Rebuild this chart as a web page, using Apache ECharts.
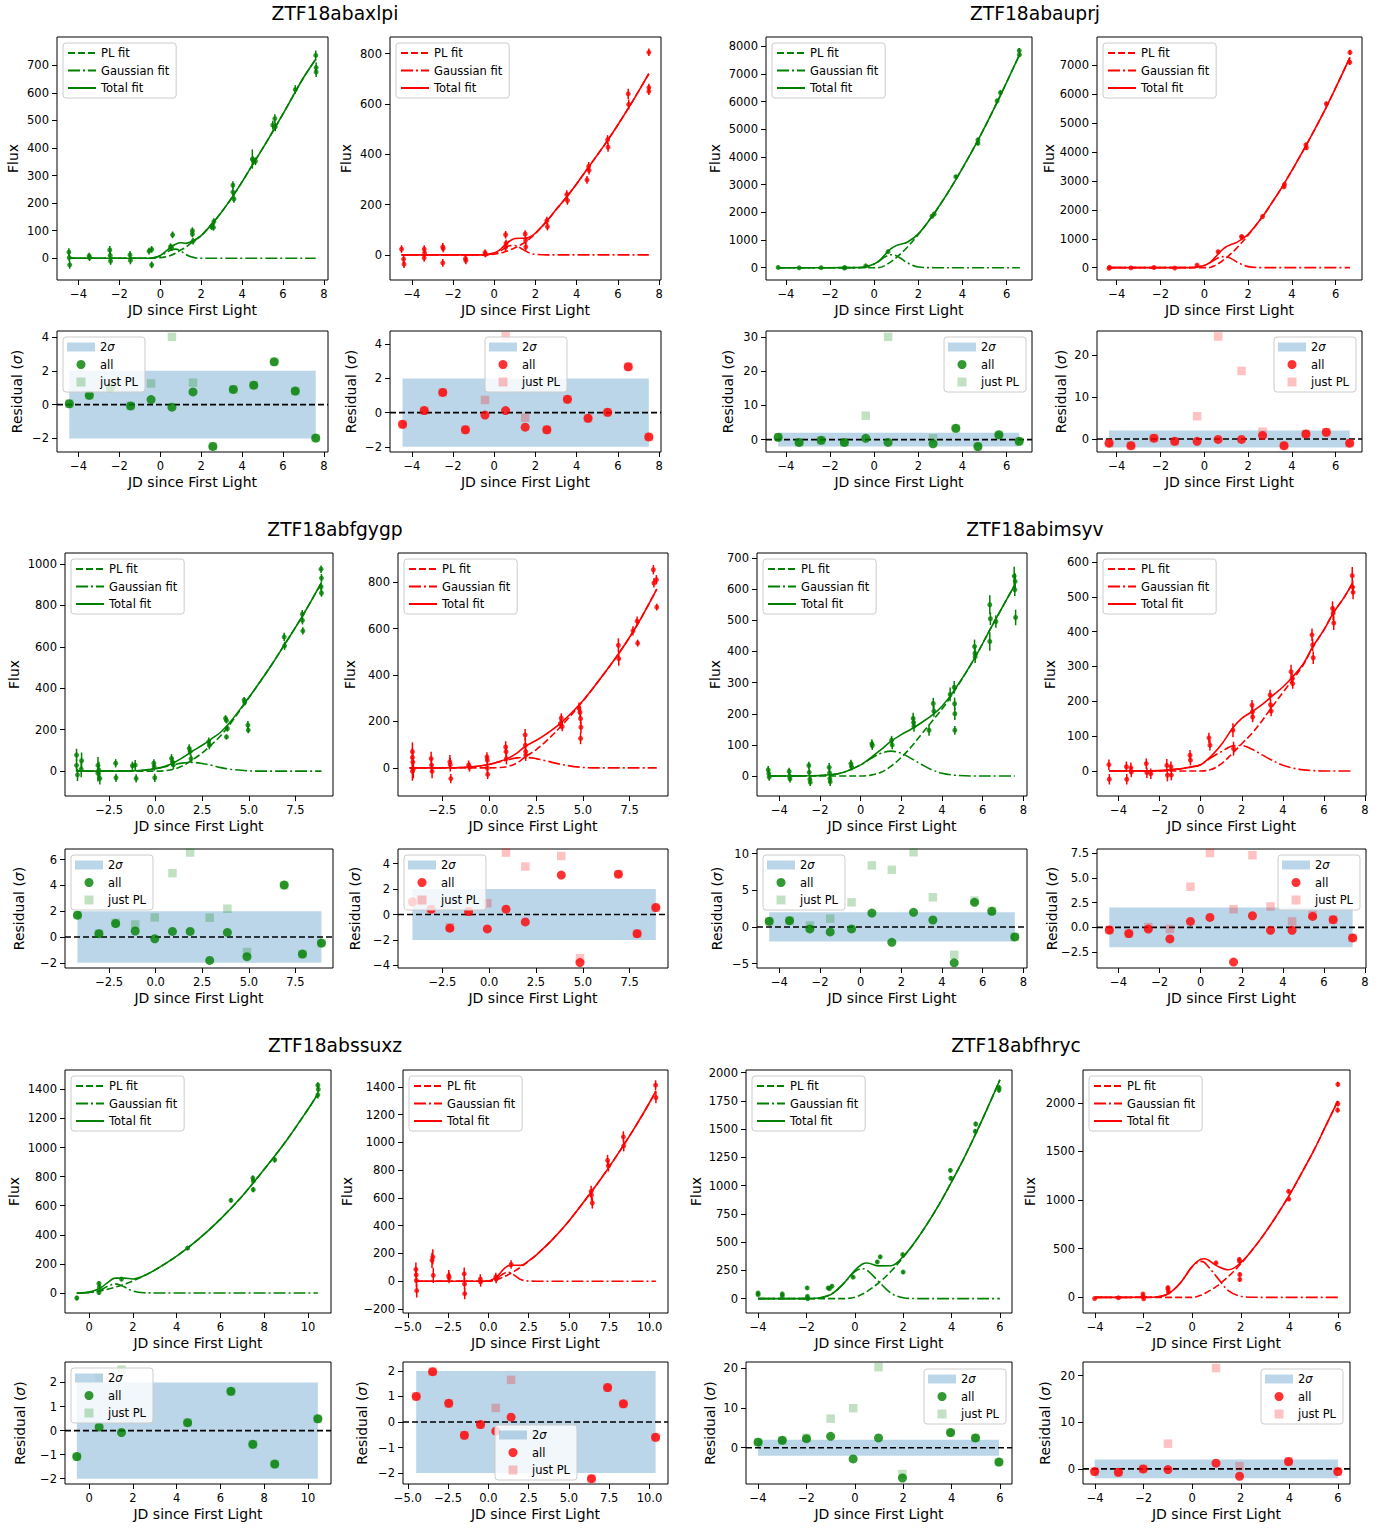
<!DOCTYPE html>
<html><head><meta charset="utf-8">
<script src="https://cdn.jsdelivr.net/npm/echarts@6/dist/echarts.min.js"></script>
<style>html,body{margin:0;padding:0;background:#fff}#c{width:1385px;height:1530px}</style>
</head><body><div id="c"></div>
<script>
const FONT = 'DejaVu Sans';
const TITLES = ['ZTF18abaxlpi','ZTF18abauprj','ZTF18abfgygp','ZTF18abimsyv','ZTF18abssuxz','ZTF18abfhryc'];
const X_LABEL = 'JD since First Light';
const FLUX_LABEL = 'Flux';
const RES_LABEL = 'Residual ({i|σ})';
const FIT_NAMES = ['PL fit','Gaussian fit','Total fit'];
const RES_NAMES = ['2σ','all','just PL'];
const SIGMA_LEVEL = 2;

// ---- tick labels ----
const XT_A = [-4,-2,0,2,4,6,8];
const XT_B = [-4,-2,0,2,4,6];
const XT_C = [-2.5,0,2.5,5,7.5];
const XT_EG = [0,2,4,6,8,10];
const XT_ER = [-5,-2.5,0,2.5,5,7.5,10];
const A_G_FT = [0,100,200,300,400,500,600,700];
const A_R_FT = [0,200,400,600,800];
const B_G_FT = [0,1000,2000,3000,4000,5000,6000,7000,8000];
const B_R_FT = [0,1000,2000,3000,4000,5000,6000,7000];
const C_G_FT = [0,200,400,600,800,1000];
const C_R_FT = [0,200,400,600,800];
const D_G_FT = [0,100,200,300,400,500,600,700];
const D_R_FT = [0,100,200,300,400,500,600];
const E_G_FT = [0,200,400,600,800,1000,1200,1400];
const E_R_FT = [-200,0,200,400,600,800,1000,1200,1400];
const F_G_FT = [0,250,500,750,1000,1250,1500,1750,2000];
const F_R_FT = [0,500,1000,1500,2000];
const A_G_RT = [-2,0,2,4];
const A_R_RT = [-2,0,2,4];
const B_G_RT = [0,10,20,30];
const B_R_RT = [0,10,20];
const C_G_RT = [-2,0,2,4,6];
const C_R_RT = [-4,-2,0,2,4];
const D_G_RT = [-5,0,5,10];
const D_R_RT = [-2.5,0,2.5,5,7.5];
const E_G_RT = [-2,-1,0,1,2];
const E_R_RT = [-2,-1,0,1,2];
const F_G_RT = [0,10,20];
const F_R_RT = [0,10,20];

// ---- ZTF18abaxlpi ----
const A_G_OBS = [[-4.47,22,14],[-4.45,2,14],[-4.43,-24,14],[-3.48,8,12],[-3.46,2,12],[-2.47,30,14],[-2.45,10,14],[-2.43,-10,14],[-1.48,12,14],[-1.46,-8,14],[-0.55,26,12],[-0.42,32,12],[-0.42,-24,12],[0.5,42,12],[0.55,38,12],[0.6,85,12],[1.57,100,12],[1.57,88,12],[1.6,62,12],[2.5,115,12],[2.6,112,12],[2.62,133,12],[3.55,265,14],[3.55,240,14],[3.6,215,14],[4.5,360,35],[4.55,355,14],[4.65,352,14],[5.5,483,16],[5.6,507,16],[5.62,477,16],[6.6,612,16],[7.6,736,18],[7.62,692,18],[7.62,676,18]];
const A_G_CX = [-4.45,-0.5,0,0.25,0.5,0.75,1,1.25,1.5,1.75,2,2.5,3,3.5,4,4.5,5,5.5,6,6.5,7,7.6];
const A_G_PL = [0,0,2,5,10,18,30,40,55,68,82,122,168,220,277,338,398,460,524,590,655,722];
const A_G_GA = [0,0,8,19,29,33,26,14,5,1,0,0,0,0,0,0,0,0,0,0,0,0];
const A_G_TOT = [0,0,10,24,39,51,56,54,60,69,82,122,168,220,277,338,398,460,524,590,655,722];
const A_G_RX = [-4.45,-3.47,-2.45,-1.45,-0.45,0.57,1.6,2.57,3.57,4.57,5.57,6.6,7.6];
const A_G_RALL = [0.05,0.55,1.0,-0.08,0.3,-0.15,0.75,-2.47,0.9,1.15,2.53,0.8,-1.98];
const A_G_RPL = [0.05,0.55,1.0,-0.08,1.25,4.0,1.3,-2.47,0.9,1.15,2.53,0.8,-1.98];

const A_R_OBS = [[-4.5,23,15],[-4.4,-17,15],[-4.38,-37,15],[-3.4,23,15],[-3.4,-12,15],[-3.38,8,15],[-2.5,32,15],[-2.48,25,15],[-2.5,-32,15],[-1.4,-15,15],[-1.38,-22,15],[-0.45,9,12],[-0.43,2,12],[0.55,80,15],[0.57,45,15],[0.55,30,15],[1.5,83,15],[1.52,58,15],[1.53,32,15],[2.55,136,15],[2.58,112,15],[3.52,240,17],[3.55,216,17],[4.5,298,15],[4.58,352,17],[4.6,336,17],[5.5,458,18],[5.52,428,18],[6.5,640,20],[6.52,598,20],[7.5,805,15],[7.5,665,15],[7.5,650,15]];
const A_R_CX = [-4.5,-0.5,0,0.25,0.5,0.75,1,1.25,1.5,1.75,2,2.55,3,3.5,4,4.5,5,5.5,6,6.5,7,7.5];
const A_R_PL = [0,0,3,6,12,19,28,38,50,66,85,134,180,229,283,340,397,455,517,582,650,720];
const A_R_GA = [0,0,5,13,26,36,37,28,16,6,2,0,0,0,0,0,0,0,0,0,0,0];
const A_R_TOT = [0,0,8,19,38,55,65,66,66,72,87,134,180,229,283,340,397,455,517,582,650,720];
const A_R_RX = [-4.45,-3.4,-2.5,-1.4,-0.45,0.55,1.5,2.55,3.55,4.55,5.5,6.5,7.5];
const A_R_RALL = [-0.68,0.12,1.18,-1.0,-0.14,0.12,-0.85,-1.0,0.78,-0.33,0.02,2.68,-1.42];
const A_R_RPL = [-0.68,0.12,1.18,-1.0,0.74,4.47,-0.29,-1.0,0.78,-0.33,0.02,2.68,-1.42];

// ---- ZTF18abauprj ----
const B_G_OBS = [[-4.35,10,40],[-3.4,-5,40],[-2.4,0,40],[-1.35,-10,40],[-1.33,5,40],[-0.38,65,40],[0.63,580,50],[2.62,1860,60],[2.72,1940,60],[3.7,3290,60],[4.7,4500,70],[4.7,4620,70],[5.57,6030,80],[5.72,6330,80],[6.57,7850,90],[6.58,7700,90]];
const B_G_CX = [-4.35,-1,-0.5,0,0.25,0.5,0.75,1,1.25,1.5,2,2.6,3,3.7,4.7,5.6,6.6];
const B_G_PL = [0,0,0,0,6,86,210,364,542,742,1198,1830,2293,3187,4606,6030,7728];
const B_G_GA = [0,1,16,131,257,393,468,434,313,176,26,1,0,0,0,0,0];
const B_G_TOT = [0,1,16,131,263,479,678,798,855,918,1224,1831,2293,3187,4606,6030,7728];
const B_G_RX = [-4.35,-3.4,-2.4,-1.35,-0.38,0.63,2.67,3.7,4.7,5.65,6.57];
const B_G_RALL = [0.7,-0.8,-0.2,-0.8,0.4,-0.8,-1.2,3.3,-2.0,1.4,-0.5];
const B_G_RPL = [0.7,-0.8,-0.2,-0.8,7.0,30.0,0.4,3.3,-2.0,1.4,-0.5];

const B_R_OBS = [[-4.35,-20,40],[-4.33,10,40],[-3.35,-10,40],[-2.3,5,40],[-1.35,-15,40],[-0.33,90,40],[0.63,550,50],[1.7,1080,50],[1.72,1050,50],[2.66,1770,60],[3.64,2800,60],[3.66,2880,60],[4.64,4250,70],[4.66,4150,70],[5.57,5670,80],[6.65,7450,90],[6.64,7110,90]];
const B_R_CX = [-4.35,-1,-0.5,0,0.25,0.5,0.75,1,1.25,1.5,2,2.66,3,3.64,4.64,5.57,6.65];
const B_R_PL = [0,0,0,0,6,80,196,341,508,695,1121,1770,2147,2900,4224,5558,7280];
const B_R_GA = [0,0,8,77,167,283,373,382,305,190,35,1,0,0,0,0,0];
const B_R_TOT = [0,0,8,77,173,363,569,723,813,885,1156,1771,2147,2900,4224,5558,7280];
const B_R_RX = [-4.35,-3.35,-2.3,-1.35,-0.33,0.63,1.7,2.66,3.64,4.64,5.57,6.64];
const B_R_RALL = [-1.0,-1.6,0.2,-0.55,-0.55,-0.1,-0.1,0.8,-1.6,1.2,1.6,-1.0];
const B_R_RPL = [-1.0,-1.6,0.2,-0.55,5.4,24.4,16.2,1.75,-1.6,1.2,1.6,-1.0];

// ---- ZTF18abfgygp ----
const C_G_OBS = [[-4.25,78,30],[-4.25,28,30],[-4.2,-18,30],[-3.98,50,40],[-4.0,10,40],[-3.1,28,40],[-3.05,5,40],[-3.1,-10,40],[-3.0,-35,30],[-2.15,38,20],[-2.13,-32,20],[-1.25,26,20],[-1.1,29,25],[-1.05,-35,20],[-0.1,38,20],[-0.08,22,20],[-0.05,-32,20],[0.85,62,20],[0.9,45,20],[0.95,30,20],[1.8,110,20],[1.85,95,20],[1.9,60,20],[2.85,142,20],[2.88,125,20],[3.75,255,15],[3.8,245,15],[3.85,206,15],[3.8,165,12],[4.75,343,15],[4.78,332,15],[4.95,222,20],[4.97,198,15],[6.9,648,20],[6.92,605,20],[7.87,758,20],[7.88,728,20],[7.9,677,18],[8.88,975,18],[8.9,932,20],[8.88,890,20],[8.9,860,18]];
const C_G_CX = [-4.25,-2,-1,-0.5,0,0.5,1,1.5,1.9,2.5,3,3.5,4,4.75,5.5,6.2,6.9,7.9,8.9];
const C_G_PL = [0,0,0,0,0,2,10,28,50,88,128,172,228,322,418,510,608,752,910];
const C_G_GA = [0,0,2,6,12,21,32,40,42,37,28,17,9,3,0,0,0,0,0];
const C_G_TOT = [0,0,2,6,12,23,42,68,92,125,156,189,237,325,418,510,608,752,910];
const C_G_RX = [-4.2,-3.05,-2.15,-1.1,-0.05,0.9,1.85,2.9,3.85,4.9,6.9,7.88,8.9];
const C_G_RALL = [1.7,0.26,1.05,0.47,-0.13,0.44,0.44,-1.81,0.36,-1.52,4.03,-1.32,-0.47];
const C_G_RPL = [1.7,0.26,1.1,0.98,1.52,4.96,6.56,1.5,2.2,-1.16,4.03,-1.32,-0.47];

const C_R_OBS = [[-4.1,70,40],[-4.1,45,40],[-4.08,25,40],[-4.05,-5,40],[-4.1,-15,40],[-3.1,40,30],[-3.08,12,30],[-3.05,-15,30],[-2.1,26,30],[-2.08,14,30],[-2.05,-46,20],[-1.1,12,20],[-1.05,4,20],[-0.12,47,20],[-0.1,33,20],[-0.1,0,20],[-0.08,-28,20],[0.88,90,25],[0.9,70,25],[0.92,40,25],[1.92,142,25],[1.93,98,30],[1.95,70,30],[1.95,55,25],[3.8,190,20],[3.85,215,20],[3.9,178,20],[4.8,256,25],[4.85,240,25],[4.88,212,25],[4.9,175,25],[4.88,127,25],[6.9,528,30],[6.92,470,30],[7.68,590,20],[7.9,632,20],[7.93,537,15],[8.77,853,20],[8.8,796,20],[8.93,810,20],[8.95,692,15]];
const C_R_CX = [-4.25,-2,-1,-0.5,0,0.5,1,1.5,1.9,2.5,3,3.85,4.85,5.8,6.9,7.9,8.95];
const C_R_PL = [0,0,0,0,0,1,6,22,46,78,112,180,272,370,490,615,770];
const C_R_GA = [0,0.5,4,8,15,25,35,43,45,40,31,15,3,0,0,0,0];
const C_R_TOT = [0,0.5,4,8,15,26,41,65,91,118,143,195,275,370,490,615,770];
const C_R_RX = [-4.1,-3.1,-2.1,-1.1,-0.1,0.9,1.93,3.85,4.85,6.9,7.9,8.9];
const C_R_RALL = [1.0,0.42,-1.07,0.24,-1.13,0.42,-0.58,3.1,-3.77,3.17,-1.5,0.55];
const C_R_RPL = [1.0,0.42,-1.0,0.24,0.89,4.87,3.77,4.6,-3.43,3.17,-1.5,0.55];

// ---- ZTF18abimsyv ----
const D_G_OBS = [[-4.55,20,12],[-4.52,8,12],[-4.5,-3,12],[-3.52,15,12],[-3.5,0,12],[-3.48,-9,12],[-2.55,34,12],[-2.53,12,12],[-2.5,-10,12],[-2.48,-20,12],[-1.55,28,14],[-1.53,10,14],[-1.52,-8,14],[-1.5,-18,14],[-0.48,40,12],[-0.45,30,12],[0.55,104,14],[0.57,98,14],[1.52,115,14],[1.55,100,14],[2.58,185,18],[2.6,172,18],[2.62,160,18],[3.36,147,18],[3.57,233,18],[3.6,208,18],[4.4,262,22],[4.6,285,20],[4.62,232,20],[4.63,200,20],[4.63,147,14],[5.6,416,22],[5.62,394,22],[5.63,383,20],[6.35,550,30],[6.38,505,20],[6.35,432,30],[6.65,496,20],[7.55,642,30],[7.6,625,25],[7.58,598,20],[7.62,509,25]];
const D_G_CX = [-4.5,-2,-1,0,0.5,1,1.5,2,2.5,3,3.5,4,4.6,5.6,6.4,7.58];
const D_G_PL = [0,0,0,0,3,12,32,60,95,135,175,215,272,378,475,614];
const D_G_GA = [0,2,9,36,56,73,80,73,56,37,20,9,3,0,0,0];
const D_G_TOT = [0,2,9,36,59,85,112,133,151,172,195,224,275,378,475,614];
const D_G_RX = [-4.5,-3.5,-2.5,-1.5,-0.45,0.55,1.53,2.6,3.55,4.6,5.6,6.45,7.58];
const D_G_RALL = [0.77,0.86,-0.27,-0.68,-0.27,1.9,-2.1,2.0,0.95,-4.9,3.36,2.14,-1.36];
const D_G_RPL = [0.77,0.86,0.2,1.14,3.36,8.4,7.8,10.2,4.05,-3.8,3.6,2.2,-1.36];

const D_R_OBS = [[-4.47,18,15],[-4.45,-24,15],[-3.62,12,15],[-3.6,-24,15],[-3.4,9,15],[-3.38,-3,15],[-2.65,21,15],[-2.62,-5,15],[-2.43,-8,15],[-1.65,16,18],[-1.62,-12,18],[-1.45,12,15],[-1.43,-12,15],[-0.52,45,15],[-0.5,31,15],[0.4,95,15],[0.45,74,15],[1.57,117,20],[1.6,64,20],[2.5,189,15],[2.52,170,15],[2.53,155,15],[3.38,218,15],[3.4,190,15],[3.43,172,15],[4.4,285,20],[4.45,265,15],[4.48,251,15],[5.42,391,18],[5.45,362,18],[5.48,325,18],[6.42,467,20],[6.45,453,20],[6.48,425,20],[7.38,561,25],[7.4,528,20],[7.42,513,20]];
const D_R_CX = [-4.45,-2,-1,-0.5,0,0.5,1,1.57,2,2.5,3,3.4,4,4.43,5,5.45,6,6.45,7,7.4];
const D_R_PL = [0,0,0,0,0,4,20,52,78,108,145,178,225,258,305,355,405,453,500,540];
const D_R_GA = [0,1,6,11,18,38,55,72,73,62,46,33,16,9,3,1,0,0,0,0];
const D_R_TOT = [0,1,6,11,18,42,75,124,151,170,191,211,241,267,308,356,405,453,500,540];
const D_R_RX = [-4.45,-3.5,-2.55,-1.5,-0.5,0.45,1.6,2.52,3.4,4.45,5.45,6.45,7.4];
const D_R_RALL = [-0.27,-0.63,-0.17,-1.17,0.6,1.0,-3.5,1.17,-0.3,-0.3,1.1,0.77,-1.07];
const D_R_RPL = [-0.27,-0.63,0.03,-0.17,4.1,7.5,1.83,7.27,2.1,0.6,1.27,0.77,-1.07];

// ---- ZTF18abssuxz ----
const E_G_OBS = [[-0.56,-35,15],[0.45,65,15],[0.47,40,15],[0.45,3,15],[1.48,95,12],[4.5,308,12],[6.48,637,15],[7.48,790,18],[7.5,770,18],[7.5,710,18],[8.48,915,18],[10.45,1428,20],[10.47,1400,20],[10.45,1362,25]];
const E_G_CX = [-0.56,0,0.5,0.8,1.2,1.6,2,2.5,3,4,5,6,7,8,9,10,10.45];
const E_G_PL = [0,4,14,24,40,60,83,117,157,253,370,508,667,850,1045,1263,1368];
const E_G_GA = [0,2,18,42,62,42,13,1,0,0,0,0,0,0,0,0,0];
const E_G_TOT = [0,6,32,66,102,102,96,118,157,253,370,508,667,850,1045,1263,1368];
const E_G_RX = [-0.56,0.46,1.48,4.5,6.48,7.48,8.48,10.45];
const E_G_RALL = [-1.08,0.15,-0.08,0.33,1.63,-0.57,-1.39,0.49];
const E_G_RPL = [-1.08,2.2,2.53,0.33,1.63,-0.57,-1.39,0.49];

const E_R_OBS = [[-4.5,85,50],[-4.48,45,50],[-4.47,5,50],[-4.45,-68,50],[-3.5,150,55],[-3.45,175,55],[-3.42,42,55],[-2.46,40,40],[-2.44,25,40],[-1.5,53,45],[-1.48,-20,45],[-1.47,-90,40],[-0.5,15,35],[-0.48,-5,35],[0.46,30,30],[0.48,15,30],[1.41,120,30],[6.38,647,40],[6.4,620,40],[6.45,563,40],[7.4,870,40],[7.45,830,40],[8.38,1040,40],[8.4,975,40],[10.38,1412,35],[10.4,1322,40]];
const E_R_CX = [-4.5,-0.5,0,0.5,0.8,1.2,1.6,2,2.5,3,4,5,6,7,8,9,10,10.4];
const E_R_PL = [0,0,0,11,24,45,71,101,145,192,303,434,583,740,910,1090,1285,1370];
const E_R_GA = [0,0,2,18,44,65,44,13,1,0,0,0,0,0,0,0,0,0];
const E_R_TOT = [0,0,2,29,68,110,115,114,146,192,303,434,583,740,910,1090,1285,1370];
const E_R_RX = [-4.48,-3.46,-2.46,-1.49,-0.49,0.46,1.41,6.4,7.4,8.38,10.38];
const E_R_RALL = [1.0,1.97,0.73,-0.52,-0.1,-0.36,0.19,-2.22,1.35,0.71,-0.6];
const E_R_RPL = [1.0,1.97,0.73,-0.52,-0.1,0.55,1.65,-2.22,1.35,0.71,-0.6];

// ---- ZTF18abfhryc ----
const F_G_OBS = [[-4,50,12],[-4.0,35,12],[-3,42,12],[-3,25,12],[-1.97,95,12],[-1.96,20,12],[-1.95,0,12],[-1.1,95,12],[-1.05,88,12],[-0.95,110,12],[-0.07,190,14],[0.93,325,16],[1.05,370,16],[2.0,235,14],[1.98,390,16],[3.95,1135,16],[3.97,1065,18],[5.0,1545,20],[4.98,1480,20],[5.97,1865,22],[5.96,1845,22]];
const F_G_CX = [-4,-2,-1.5,-1,-0.5,0,0.3,0.5,1,1.5,2,2.5,3,3.5,4,4.5,5,5.5,6];
const F_G_PL = [0,0,0,0,0,12,39,63,141,243,365,505,664,839,1034,1237,1459,1693,1935];
const F_G_GA = [0,0.5,6,36,125,238,265,253,149,48,8,1,0,0,0,0,0,0,0];
const F_G_TOT = [0,0.5,6,36,125,250,304,316,290,291,373,506,664,839,1034,1237,1459,1693,1935];
const F_G_RX = [-4,-3,-2,-1,-0.07,0.98,1.97,3.96,4.99,5.96];
const F_G_RALL = [1.4,1.86,2.28,2.87,-2.8,2.45,-7.6,3.8,2.45,-3.6];
const F_G_RPL = [1.4,1.86,2.5,7.3,9.9,20.2,-6.6,3.8,2.45,-3.6];

const F_R_OBS = [[-4.02,-12,12],[-3.04,-5,12],[-2.03,35,12],[-2.02,10,12],[-2.0,-15,12],[-1.0,100,15],[-1.0,85,15],[-0.98,55,15],[0.98,355,15],[1.94,390,18],[1.95,370,18],[1.96,235,20],[1.96,183,20],[3.97,1090,20],[3.98,1010,20],[6.0,2190,25],[6.0,1990,25],[5.99,1925,25]];
const F_R_CX = [-4,-2,-1.5,-1,-0.5,0,0.35,0.5,1,1.5,2,2.5,3,3.5,4,4.5,5,5.5,6];
const F_R_PL = [0,0,0,0,0,0,21,37,113,217,345,495,663,849,1050,1274,1505,1762,2020];
const F_R_GA = [0,0.3,4,35,145,316,370,359,213,66,11,1,0,0,0,0,0,0,0];
const F_R_TOT = [0,0.3,4,35,145,316,391,396,326,283,356,496,663,849,1050,1274,1505,1762,2020];
const F_R_RX = [-4.02,-3.04,-2.02,-1.0,0.98,1.95,3.97,6.0];
const F_R_RALL = [-0.58,-0.72,0,-0.14,1.22,-1.58,1.58,-0.58];
const F_R_RPL = [-0.58,-0.72,0,5.4,21.6,0.58,1.58,-0.58];

// ---- layout (positions / styles only) ----
const ROWS = [
  {ft:37, fh:243, rt:331, rh:121},
  {ft:553, fh:243, rt:849, rh:119},
  {ft:1070, fh:243, rt:1362, rh:122}
];
const TITLE_POS = [[335,13],[1035,13],[335,529],[1035,529],[335,1045],[1016,1045]];
const GREEN = 'green', RED = 'red';
const COLS = [
  {row:0, L:57, W:271, c:GREEN, obs:A_G_OBS, cx:A_G_CX, pl:A_G_PL, ga:A_G_GA, tot:A_G_TOT, rx:A_G_RX, ra:A_G_RALL, rp:A_G_RPL, xt:XT_A, ft:A_G_FT, rt:A_G_RT, xr:[-5.05,8.2], fy:[-79,803], ry:[-2.8,4.35], fg:37, rg:33, leg:{left:63, top:337}},
  {row:0, L:390, W:271, c:RED, obs:A_R_OBS, cx:A_R_CX, pl:A_R_PL, ga:A_R_GA, tot:A_R_TOT, rx:A_R_RX, ra:A_R_RALL, rp:A_R_RPL, xt:XT_A, ft:A_R_FT, rt:A_R_RT, xr:[-5.06,8.09], fy:[-100,866], ry:[-2.3,4.77], fg:37, rg:32, leg:{left:485, top:337}},
  {row:0, L:766, W:266, c:GREEN, obs:B_G_OBS, cx:B_G_CX, pl:B_G_PL, ga:B_G_GA, tot:B_G_TOT, rx:B_G_RX, ra:B_G_RALL, rp:B_G_RPL, xt:XT_B, ft:B_G_FT, rt:B_G_RT, xr:[-4.9,7.15], fy:[-445,8340], ry:[-3.6,31.7], fg:44, rg:31, leg:{right:359, top:337}},
  {row:0, L:1097, W:265, c:RED, obs:B_R_OBS, cx:B_R_CX, pl:B_R_PL, ga:B_R_GA, tot:B_R_TOT, rx:B_R_RX, ra:B_R_RALL, rp:B_R_RPL, xt:XT_B, ft:B_R_FT, rt:B_R_RT, xr:[-4.9,7.2], fy:[-427,7984], ry:[-3.1,25.7], fg:41, rg:29, leg:{right:29, top:337}},
  {row:1, L:65, W:268, c:GREEN, obs:C_G_OBS, cx:C_G_CX, pl:C_G_PL, ga:C_G_GA, tot:C_G_TOT, rx:C_G_RX, ra:C_G_RALL, rp:C_G_RPL, xt:XT_C, ft:C_G_FT, rt:C_G_RT, xr:[-4.87,9.52], fy:[-120,1053], ry:[-2.4,6.83], fg:44, rg:39, leg:{left:71, top:855}},
  {row:1, L:398, W:270, c:RED, obs:C_R_OBS, cx:C_R_CX, pl:C_R_PL, ga:C_R_GA, tot:C_R_TOT, rx:C_R_RX, ra:C_R_RALL, rp:C_R_RPL, xt:XT_C, ft:C_R_FT, rt:C_R_RT, xr:[-4.87,9.55], fy:[-121,925], ry:[-4.2,5.15], fg:41, rg:36, leg:{left:404, top:855}},
  {row:1, L:757, W:270, c:GREEN, obs:D_G_OBS, cx:D_G_CX, pl:D_G_PL, ga:D_G_GA, tot:D_G_TOT, rx:D_G_RX, ra:D_G_RALL, rp:D_G_RPL, xt:XT_A, ft:D_G_FT, rt:D_G_RT, xr:[-5.1,8.18], fy:[-64,716], ry:[-5.6,10.64], fg:35, rg:33, leg:{left:763, top:855}},
  {row:1, L:1097, W:269, c:RED, obs:D_R_OBS, cx:D_R_CX, pl:D_R_PL, ga:D_R_GA, tot:D_R_TOT, rx:D_R_RX, ra:D_R_RALL, rp:D_R_RPL, xt:XT_A, ft:D_R_FT, rt:D_R_RT, xr:[-5.05,8.05], fy:[-72,626], ry:[-4.1,7.9], fg:40, rg:38, leg:{right:25, top:855}},
  {row:2, L:65, W:266, c:GREEN, obs:E_G_OBS, cx:E_G_CX, pl:E_G_PL, ga:E_G_GA, tot:E_G_TOT, rx:E_G_RX, ra:E_G_RALL, rp:E_G_RPL, xt:XT_EG, ft:E_G_FT, rt:E_G_RT, xr:[-1.1,11.05], fy:[-138,1533], ry:[-2.22,2.85], fg:44, rg:38, leg:{left:71, top:1368}},
  {row:2, L:403, W:265, c:RED, obs:E_R_OBS, cx:E_R_CX, pl:E_R_PL, ga:E_R_GA, tot:E_R_TOT, rx:E_R_RX, ra:E_R_RALL, rp:E_R_RPL, xt:XT_ER, ft:E_R_FT, rt:E_R_RT, xr:[-5.3,11.15], fy:[-229,1521], ry:[-2.43,2.35], fg:49, rg:34, leg:{left:495, top:1425}},
  {row:2, L:746, W:266, c:GREEN, obs:F_G_OBS, cx:F_G_CX, pl:F_G_PL, ga:F_G_GA, tot:F_G_TOT, rx:F_G_RX, ra:F_G_RALL, rp:F_G_RPL, xt:XT_B, ft:F_G_FT, rt:F_G_RT, xr:[-4.5,6.5], fy:[-127,2023], ry:[-9.1,21.5], fg:43, rg:29, leg:{right:379, top:1369}},
  {row:2, L:1083, W:267, c:RED, obs:F_R_OBS, cx:F_R_CX, pl:F_R_PL, ga:F_R_GA, tot:F_R_TOT, rx:F_R_RX, ra:F_R_RALL, rp:F_R_RPL, xt:XT_B, ft:F_R_FT, rt:F_R_RT, xr:[-4.5,6.5], fy:[-161,2337], ry:[-3.24,22.9], fg:46, rg:31, leg:{right:42, top:1369}}
];

const BAND_COLOR = 'rgba(31,119,180,0.3)';
const LIGHT = {green:'rgba(0,128,0,0.3)', red:'rgba(255,0,0,0.3)'};
const DASH = [7,3], DASHDOT = [12,3,2,3];

const zip = (a, b) => a.map((v, k) => [v, b[k]]);
function fmt(ticks) {
  const dec = ticks.some(t => Math.abs(t - Math.round(t)) > 1e-9);
  return v => (dec ? v.toFixed(1) : String(Math.round(v))).replace('-', '\u2212');
}
const grid = [], xAxis = [], yAxis = [], series = [], legend = [];
const TXT = {color:'#000', fontFamily:FONT};

function addPanel(box, xr, yr, xt, yt, yName, yGap) {
  const i = grid.length;
  grid.push({left:box[0], top:box[1], width:box[2], height:box[3], show:true, borderColor:'#000', borderWidth:1, containLabel:false, outerBoundsMode:'none'});
  const axBase = {type:'value', gridIndex:i, axisLine:{show:false, onZero:false}, splitLine:{show:false}, nameLocation:'middle', nameMoveOverlap:false};
  xAxis.push(Object.assign({}, axBase, {position:'bottom', min:xr[0], max:xr[1],
    axisTick:{show:true, customValues:xt, length:5, lineStyle:{color:'#000', width:1}},
    axisLabel:Object.assign({customValues:xt, formatter:fmt(xt), margin:8, fontSize:11.5}, TXT),
    name:X_LABEL, nameGap:23, nameTextStyle:Object.assign({fontSize:14}, TXT)}));
  yAxis.push(Object.assign({}, axBase, {position:'left', min:yr[0], max:yr[1],
    axisTick:{show:true, customValues:yt, length:5, lineStyle:{color:'#000', width:1}},
    axisLabel:Object.assign({customValues:yt, formatter:fmt(yt), margin:8, fontSize:11.5}, TXT),
    name:yName, nameGap:yGap, nameRotate:90,
    nameTextStyle:Object.assign({fontSize:14, rich:{i:Object.assign({fontSize:14, fontStyle:'italic'}, TXT)}}, TXT)}));
  return i;
}

const LEG_BASE = {orient:'vertical', itemWidth:28, itemHeight:9, itemGap:3.5, padding:[3,7,3,4],
  backgroundColor:'rgba(255,255,255,0.8)', borderColor:'#cccccc', borderWidth:1, borderRadius:3,
  selectedMode:false, z:10,
  textStyle:Object.assign({fontSize:11.5, lineHeight:14, rich:{i:Object.assign({fontSize:11.5, fontStyle:'italic'}, TXT)}}, TXT),
  formatter: n => { const b = n.split('|')[0]; return b === '2σ' ? '2{i|σ}' : b; }
};
const NO_SYM = {color:'rgba(0,0,0,0)', borderColor:'rgba(0,0,0,0)', borderWidth:0, opacity:0};

COLS.forEach(col => {
  const R = ROWS[col.row];
  // flux panel
  const i = addPanel([col.L, R.ft, col.W, R.fh], col.xr, col.fy, col.xt, col.ft, FLUX_LABEL, col.fg);
  const lineBase = {type:'line', xAxisIndex:i, yAxisIndex:i, symbol:'none', showSymbol:false, smooth:0.35, silent:true, z:2, itemStyle:{color:col.c}};
  series.push(Object.assign({}, lineBase, {name:FIT_NAMES[0]+'|'+i, data:zip(col.cx, col.pl), lineStyle:{color:col.c, width:1.6, type:DASH}}));
  series.push(Object.assign({}, lineBase, {name:FIT_NAMES[1]+'|'+i, data:zip(col.cx, col.ga), lineStyle:{color:col.c, width:1.6, type:DASHDOT}}));
  series.push(Object.assign({}, lineBase, {name:FIT_NAMES[2]+'|'+i, data:zip(col.cx, col.tot), lineStyle:{color:col.c, width:1.6, type:'solid'}}));
  series.push({type:'custom', xAxisIndex:i, yAxisIndex:i, data:col.obs, encode:{x:0, y:1}, silent:true, z:3,
    renderItem:(p, api) => {
      const x = api.value(0), y = api.value(1), e = api.value(2);
      const a = api.coord([x, y - e]), b = api.coord([x, y + e]);
      return {type:'line', shape:{x1:a[0], y1:a[1], x2:b[0], y2:b[1]}, style:{stroke:col.c, lineWidth:1.5}};
    }});
  series.push({type:'scatter', xAxisIndex:i, yAxisIndex:i, data:col.obs.map(o => [o[0], o[1]]), symbolSize:5, itemStyle:{color:col.c}, silent:true, z:4});
  legend.push(Object.assign({}, LEG_BASE, {left:col.L + 6, top:R.ft + 6, itemStyle:NO_SYM,
    data:FIT_NAMES.map(n => ({name:n + '|' + i, itemStyle:NO_SYM}))}));

  // residual panel
  const j = addPanel([col.L, R.rt, col.W, R.rh], col.xr, col.ry, col.xt, col.rt, RES_LABEL, col.rg);
  series.push({type:'custom', name:RES_NAMES[0]+'|'+j, xAxisIndex:j, yAxisIndex:j, data:[[col.rx[0], col.rx[col.rx.length-1], SIGMA_LEVEL]], encode:{x:[0,1], y:2}, silent:true, z:1, itemStyle:{color:BAND_COLOR},
    renderItem:(p, api) => {
      const a = api.coord([api.value(0), api.value(2)]), b = api.coord([api.value(1), -api.value(2)]);
      return {type:'rect', shape:{x:a[0], y:a[1], width:b[0]-a[0], height:b[1]-a[1]}, style:{fill:BAND_COLOR}};
    }});
  series.push({type:'line', xAxisIndex:j, yAxisIndex:j, data:[[col.xr[0], 0], [col.xr[1], 0]], symbol:'none', silent:true, z:2, lineStyle:{color:'#000', width:1.6, type:[6,3]}});
  series.push({type:'scatter', name:RES_NAMES[2]+'|'+j, xAxisIndex:j, yAxisIndex:j, data:zip(col.rx, col.rp), symbol:'rect', symbolSize:8.5, itemStyle:{color:LIGHT[col.c]}, silent:true, z:3});
  series.push({type:'scatter', name:RES_NAMES[1]+'|'+j, xAxisIndex:j, yAxisIndex:j, data:zip(col.rx, col.ra), symbol:'circle', symbolSize:9, itemStyle:{color:col.c}, silent:true, z:4});
  legend.push(Object.assign({}, LEG_BASE, col.leg, {data:[
    {name:RES_NAMES[0]+'|'+j, icon:'rect', itemStyle:{color:BAND_COLOR}},
    {name:RES_NAMES[1]+'|'+j, icon:'circle', itemStyle:{color:col.c}},
    {name:RES_NAMES[2]+'|'+j, icon:'path://M0,0L1,0L1,1L0,1Z', itemStyle:{color:LIGHT[col.c]}}
  ]}));
});

const graphic = TITLES.map((t, k) => ({type:'text', x:TITLE_POS[k][0], y:TITLE_POS[k][1], silent:true,
  style:{text:t, fill:'#000', font:'18.7px "DejaVu Sans"', fontSize:18.7, fontFamily:FONT, align:'center', verticalAlign:'middle', textAlign:'center', textVerticalAlign:'middle'}}));

const chart = echarts.init(document.getElementById('c'), null, {renderer:'svg', width:1385, height:1530});
chart.setOption({animation:false, backgroundColor:'#fff', textStyle:{fontFamily:FONT}, grid, xAxis, yAxis, series, legend, graphic});
</script></body></html>
